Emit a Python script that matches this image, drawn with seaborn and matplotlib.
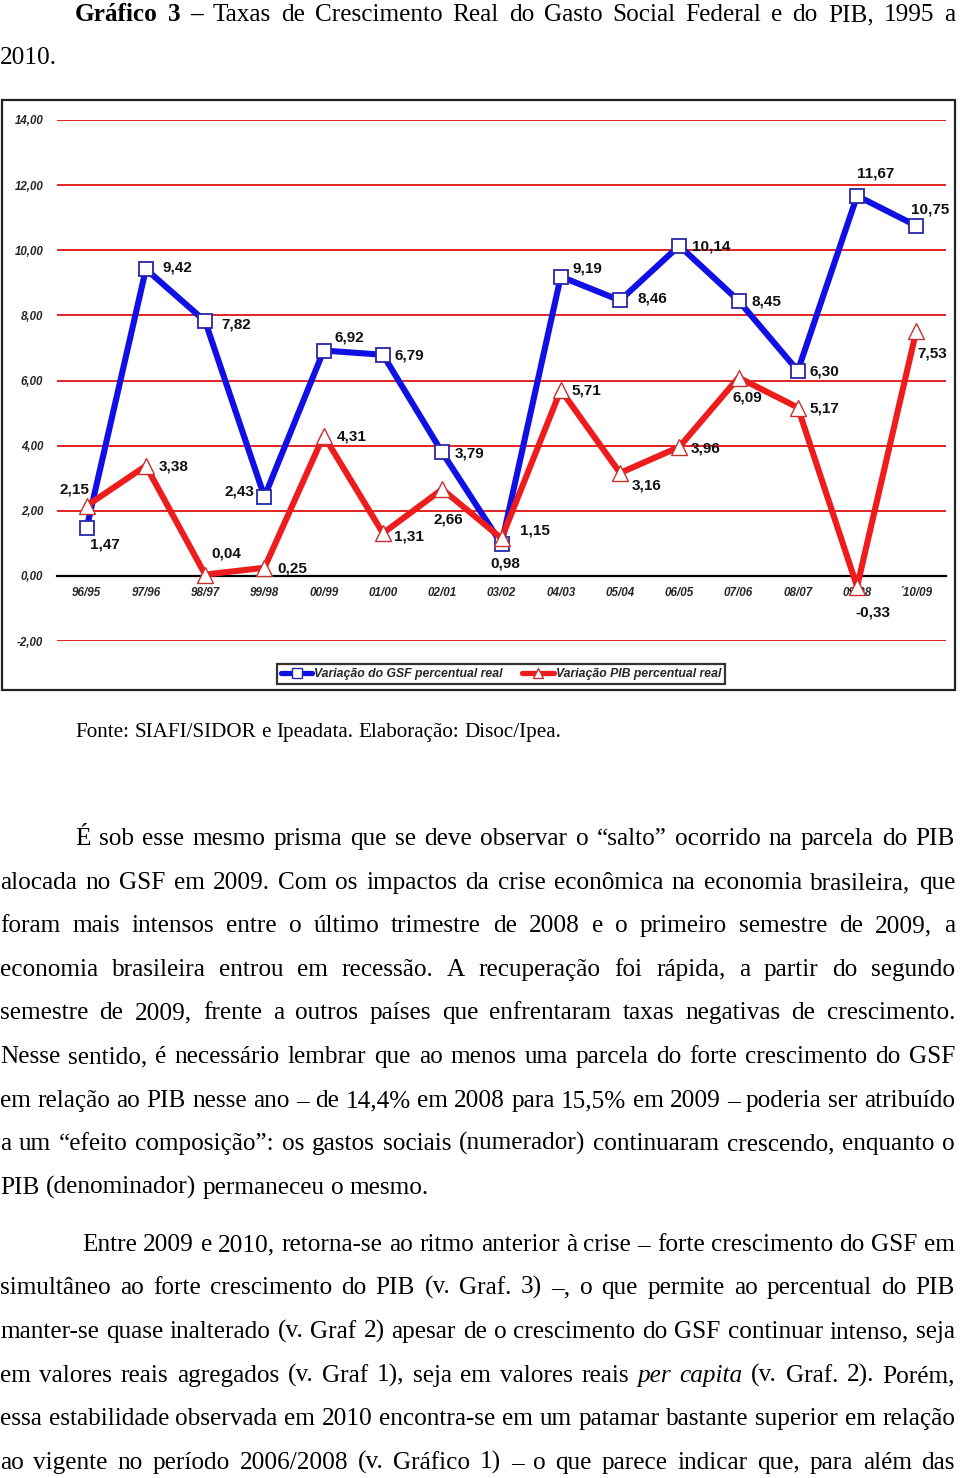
import numpy as np
import pandas as pd
import matplotlib
matplotlib.use("Agg")
import matplotlib.pyplot as plt
from matplotlib.patches import Rectangle
from matplotlib.lines import Line2D
import seaborn as sns

# ---------------- data ----------------
periods = ["96/95", "97/96", "98/97", "99/98", "00/99", "01/00", "02/01", "03/02",
           "04/03", "05/04", "06/05", "07/06", "08/07", "09/08", "´10/09"]
gsf = [1.47, 9.42, 7.82, 2.43, 6.92, 6.79, 3.79, 0.98, 9.19, 8.46, 10.14, 8.45, 6.30, 11.67, 10.75]
pib = [2.15, 3.38, 0.04, 0.25, 4.31, 1.31, 2.66, 1.15, 5.71, 3.16, 3.96, 6.09, 5.17, -0.33, 7.53]
yticks = [-2, 0, 2, 4, 6, 8, 10, 12, 14]
legend_labels = ["Variação do GSF percentual real", "Variação PIB percentual real"]

title_bold = "Gráfico 3 –"
title_rest = "Taxas de Crescimento Real do Gasto Social Federal e do PIB, 1995 a"
title_line2 = "2010."
source = "Fonte: SIAFI/SIDOR e Ipeadata. Elaboração: Disoc/Ipea."
para1 = [
    "É sob esse mesmo prisma que se deve observar o “salto” ocorrido na parcela do PIB",
    "alocada no GSF em 2009. Com os impactos da crise econômica na economia brasileira, que",
    "foram mais intensos entre o último trimestre de 2008 e o primeiro semestre de 2009, a",
    "economia brasileira entrou em recessão. A recuperação foi rápida, a partir do segundo",
    "semestre de 2009, frente a outros países que enfrentaram taxas negativas de crescimento.",
    "Nesse sentido, é necessário lembrar que ao menos uma parcela do forte crescimento do GSF",
    "em relação ao PIB nesse ano – de 14,4% em 2008 para 15,5% em 2009 – poderia ser atribuído",
    "a um “efeito composição”: os gastos sociais (numerador) continuaram crescendo, enquanto o",
    "PIB (denominador) permaneceu o mesmo.",
]
para2 = [
    "Entre 2009 e 2010, retorna-se ao ritmo anterior à crise – forte crescimento do GSF em",
    "simultâneo ao forte crescimento do PIB (v. Graf. 3) –, o que permite ao percentual do PIB",
    "manter-se quase inalterado (v. Graf 2) apesar de o crescimento do GSF continuar intenso, seja",
    "em valores reais agregados (v. Graf 1), seja em valores reais _per _capita (v. Graf. 2). Porém,",
    "essa estabilidade observada em 2010 encontra-se em um patamar bastante superior em relação",
    "ao vigente no período 2006/2008 (v. Gráfico 1) – o que parece indicar que, para além das",
]

# ---------------- style / layout ----------------
W, H = 960, 1478
sns.set_style("white")
plt.rcParams["font.family"] = ["Liberation Sans", "DejaVu Sans"]

fig = plt.figure(figsize=(W / 100, H / 100), dpi=100)

def fx(x):
    return x / W

def fy(y):
    return 1 - y / H

BLUE = "#1010e6"
RED = "#ee1c1c"

ax = fig.add_axes([fx(57), fy(641), fx(946 - 57), (641 - 120) / H])
ax.set_xlim(-0.5, len(periods) - 0.5)
ax.set_ylim(-2, 14)

df = pd.DataFrame({"idx": np.arange(len(periods)), "gsf": gsf, "pib": pib})
sns.lineplot(data=df, x="idx", y="gsf", ax=ax, color=BLUE, lw=4.4, marker="s",
             markersize=10, markerfacecolor="white", markeredgecolor="#2828a8",
             markeredgewidth=1.3, sort=False, zorder=3)
sns.lineplot(data=df, x="idx", y="pib", ax=ax, color=RED, lw=4.4, marker="^",
             markersize=11, markerfacecolor="white", markeredgecolor="#c83030",
             markeredgewidth=1.0, sort=False, zorder=4)

ax.set_yticks(yticks)
ax.set_yticklabels([f"{v:.2f}".replace(".", ",") for v in yticks],
                   fontstyle="italic", fontweight="bold", fontsize=8.3)
ax.yaxis.grid(True, color="#e42222", lw=1.4)
ax.xaxis.grid(False)
ax.set_axisbelow(True)
for s in ["left", "right", "top"]:
    ax.spines[s].set_visible(False)
ax.spines["bottom"].set_position(("data", 0))
ax.spines["bottom"].set_color("black")
ax.spines["bottom"].set_linewidth(1.6)
ax.spines["bottom"].set_zorder(2.5)
ax.set_xticks(np.arange(len(periods)))
ax.set_xticklabels(periods, fontstyle="italic", fontweight="bold", fontsize=8.4)
ax.set_xticks(np.arange(-0.5, len(periods), 1), minor=True)
ax.tick_params(axis="x", which="major", length=0, pad=8)
ax.tick_params(axis="x", which="minor", length=4, width=1.4, color="black", direction="out")
ax.tick_params(axis="y", length=0, pad=10)
ax.set_xlabel("")
ax.set_ylabel("")

blue_off = [(18, -16), (32, 2), (31, -3), (-25, 5), (26, 13), (26, -1), (27, -1), (4, -20),
            (27, 8), (32, 2), (32, -1), (28, -1), (27, -1), (19, 22), (14, 16)]
red_off = [(-12, 16), (28, -1), (21, 21), (28, -1), (28, -1), (26, -3), (6, -30), (33, 8),
           (26, -1), (27, -13), (26, -2), (9, -20), (27, -1), (16, -26), (16, -23)]
for series, offs in ((gsf, blue_off), (pib, red_off)):
    for i, v in enumerate(series):
        ax.annotate(f"{v:.2f}".replace(".", ","), (i, v), xytext=offs[i],
                    textcoords="offset pixels", ha="center", va="center",
                    fontsize=11, fontweight="bold", color="#111111", zorder=6)

handles = [
    Line2D([], [], color=BLUE, lw=3.8, marker="s", markersize=7,
           markerfacecolor="white", markeredgecolor="#2828a8"),
    Line2D([], [], color=RED, lw=3.8, marker="^", markersize=7,
           markerfacecolor="white", markeredgecolor="#c83030"),
]
leg = ax.legend(handles, legend_labels, loc="center",
                bbox_to_anchor=(fx(501), fy(674)), bbox_transform=fig.transFigure,
                ncol=2, frameon=True, fancybox=False, edgecolor="black",
                prop={"style": "italic", "weight": "bold", "size": 8.8}, handlelength=2.6,
                handletextpad=0.15, columnspacing=1.6, borderpad=0.3)
leg.get_frame().set_linewidth(1.6)

fig.add_artist(Rectangle((fx(2), fy(690)), fx(953), 590 / H, transform=fig.transFigure,
                         fill=False, ec="#222222", lw=1.6))

# ---------------- text (justified) ----------------
SERIF = ["Liberation Serif", "DejaVu Serif"]
renderer = fig.canvas.get_renderer()

def width_of(s, size, weight="normal", style="normal"):
    t = fig.text(0, 0, s, fontsize=size, family=SERIF, fontweight=weight, fontstyle=style)
    w = t.get_window_extent(renderer).width
    t.remove()
    return w

def words_of(line):
    out = []
    for w in line.split(" "):
        if w.startswith("_"):
            out.append((w[1:], "normal", "italic"))
        else:
            out.append((w, "normal", "normal"))
    return out

def draw_words(words, x0, x1, ybase, size, justify=True):
    ws = [width_of(w, size, wt, st) for w, wt, st in words]
    sp = width_of("n n", size) - width_of("nn", size)
    if justify and len(words) > 1:
        gap = (x1 - x0 - sum(ws)) / (len(words) - 1)
    else:
        gap = sp
    x = x0
    for (w, wt, st), ww in zip(words, ws):
        fig.text(fx(x), fy(ybase), w, fontsize=size, family=SERIF, fontweight=wt,
                 fontstyle=st, va="baseline", ha="left", color="black")
        x += ww + gap

# body font size: fit the free (unjustified) last line of paragraph 1
ref = width_of(para1[-1], 10)
size = 10 * 428 / ref
allj = [(para1[0], 75)] + [(l, 0) for l in para1[1:-1]] + [(para2[0], 82)] + [(l, 0) for l in para2[1:]]
for line, x0 in allj:
    wds = words_of(line)
    natural = sum(width_of(w, 10, wt, st) for w, wt, st in wds)
    sp10 = width_of("n n", 10) - width_of("nn", 10)
    need = natural + 0.55 * sp10 * (len(wds) - 1)
    size = min(size, 10 * (955 - x0) / need)

# title
tw = [(w, "bold", "normal") for w in title_bold.split(" ")] + \
     [(w, "normal", "normal") for w in title_rest.split(" ")]
draw_words(tw, 75, 955, 21, size)
draw_words([(title_line2, "normal", "normal")], 0, 955, 64, size, justify=False)

# source
ssize = 10 * 485 / width_of(source, 10)
draw_words(words_of(source), 75, 560, 737, ssize, justify=False)

base1 = [845, 889, 932, 976, 1019, 1063, 1107, 1150, 1194]
for k, line in enumerate(para1):
    x0 = 75 if k == 0 else 0
    draw_words(words_of(line), x0, 955, base1[k], size, justify=(k < len(para1) - 1))

base2 = [1251, 1294, 1338, 1382, 1425, 1469]
for k, line in enumerate(para2):
    x0 = 82 if k == 0 else 0
    draw_words(words_of(line), x0, 955, base2[k], size, justify=True)

fig.savefig("out.png", dpi=100)
